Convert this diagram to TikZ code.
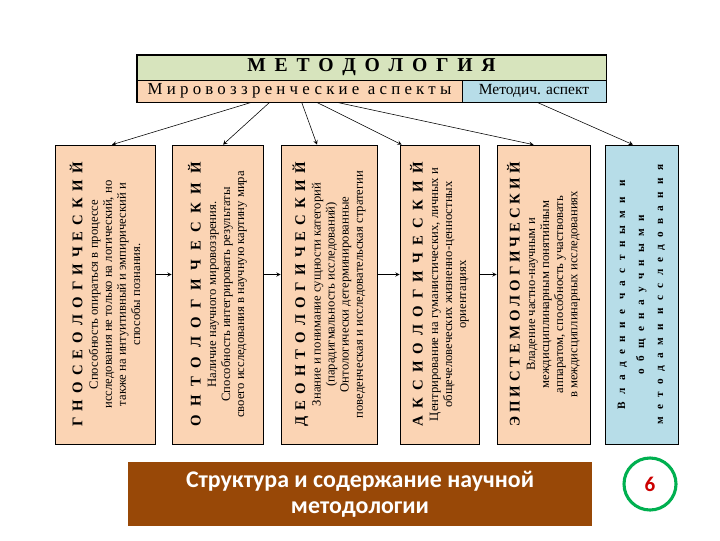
\documentclass[tikz,border=0pt]{standalone}
\usepackage{fontspec}
\setmainfont{Liberation Serif}
\newfontfamily\calibri{Carlito}
\newfontfamily\razryad[LetterSpace=25]{Liberation Serif}
\newfontfamily\shirokiy[LetterSpace=65]{Liberation Serif}
\usetikzlibrary{calc, positioning}
\usetikzlibrary{shapes.geometric, arrows}
\definecolor{persik}{HTML}{FBD4B4}
\definecolor{oliva}{HTML}{D7E4BD}
\definecolor{goluboy}{HTML}{B7DDE8}
\definecolor{korichn}{HTML}{984807}
\definecolor{zelen}{HTML}{00B050}
\tikzstyle{aspekt} = [rectangle, draw=black, fill=persik, minimum height=7.475cm, inner sep=0pt]
\tikzstyle{nadpis} = [rotate=90, align=center, inner sep=0pt, font=\fontsize{9}{10}\selectfont]
\tikzstyle{shapka} = [rectangle, draw=black, inner sep=0pt]
\tikzstyle{arrow} = [->,>=stealth]
\newcommand{\zagl}[1]{\makebox[6.6cm][s]{\bfseries\fontsize{10.5}{10.5}\selectfont #1}}

\begin{document}
\begin{tikzpicture}[x=0.025cm,y=-0.025cm]
	\useasboundingbox (0,0) rectangle (720,540);
	% shapka
	\node[shapka, fill=oliva, minimum width=11.725cm, minimum height=0.625cm] (metod) at (371.5,67.5)
		{\makebox[6.2cm][s]{\bfseries\fontsize{14}{14}\selectfont М Е Т О Д О Л О Г И Я}};
	\node[shapka, fill=persik, minimum width=8.125cm, minimum height=0.55cm] (mir) at (299.5,91)
		{\razryad\fontsize{12}{12}\selectfont Мировоззренческие аспекты};
	\node[shapka, fill=goluboy, minimum width=3.6cm, minimum height=0.55cm] (met) at (534,91)
		{\fontsize{11}{11}\selectfont Методич. аспект};
	\draw[line width=1pt] (metod.north west) rectangle (met.south east);

	% aspekty
	\node[aspekt, minimum width=2.5cm] (gno) at (105,294.5) {};
	\node[aspekt, minimum width=2.275cm] (ont) at (217.5,294.5) {};
	\node[aspekt, minimum width=2.4cm] (deo) at (329,294.5) {};
	\node[aspekt, minimum width=1.975cm] (aks) at (439.5,294.5) {};
	\node[aspekt, minimum width=2.325cm] (epi) at (543.5,294.5) {};
	\node[aspekt, fill=goluboy, minimum width=1.825cm] (vla) at (641.5,294.5) {};

	\node[nadpis] at (gno) {\zagl{Г Н О С Е О Л О Г И Ч Е С К И Й}\\[1pt]
		Способность опираться в процессе\\ исследования не только на логический, но\\
		также на интуитивный и эмпирический и\\ способы познания.};
	\node[nadpis] at (ont) {\zagl{О Н Т О Л О Г И Ч Е С К И Й}\\[1pt]
		Наличие научного мировоззрения.\\ Способность интегрировать результаты\\
		своего исследования в научную картину мира};
	\node[nadpis] at (deo) {\zagl{Д Е О Н Т О Л О Г И Ч Е С К И Й}\\[1pt]
		Знание и понимание сущности категорий\\ (парадигмальность исследований)\\
		Онтологически детерминированные\\ поведенческая и исследовательская стратегии};
	\node[nadpis] at (aks) {\zagl{А К С И О Л О Г И Ч Е С К И Й}\\[1pt]
		Центрирование на гуманистических, личных и\\ общечеловеческих жизненно-ценностных\\
		ориентациях};
	\node[nadpis] at (epi) {\zagl{Э П И С Т Е М О Л О Г И Ч Е С К И Й}\\[1pt]
		Владение частно-научным и\\ междисциплинарным понятийным\\
		аппаратом, способность участвовать\\ в междисциплинарных исследованиях};
	\node[nadpis, font=\shirokiy\bfseries\fontsize{8}{13.5}\selectfont] at (vla)
		{Владение частными и\\ общенаучными\\ методами исследования};

	% strelki
	\draw[arrow] ($(mir.south west)+(115,0)$) -- ($(gno.north)+(7,0)$);
	\draw[arrow] ($(mir.south west)+(133,0)$) -- ($(ont.north)+(5.5,0)$);
	\draw[arrow] ($(mir.south west)+(165,0)$) -- ($(deo.north)+(-12,0)$);
	\draw[arrow] ($(mir.south west)+(180,0)$) -- ($(aks.north west)+(2,0)$);
	\draw[arrow] ($(mir.south west)+(200,0)$) -- ($(epi.north)+(-10,0)$);
	\draw[arrow] ($(met.south)+(3,0)$) -- ($(vla.north)+(-8.5,0)$);
	\foreach \a/\b in {gno/ont, ont/deo, deo/aks, aks/epi}
		\draw[arrow] ($(\a.east)+(0,-20)$) -- ($(\b.west)+(0,-20)$);

	% podpis
	\node[fill=korichn, minimum width=11.6cm, minimum height=1.6cm, text=white, align=center,
		font=\calibri\bfseries\fontsize{17}{18.5}\selectfont] (itog) at (360,494)
		{Структура и содержание научной\\ методологии};
	\node[circle, draw=zelen, line width=2.2pt, minimum size=1.3cm, text=red!80!black,
		font=\calibri\bfseries\fontsize{15}{15}\selectfont] (nomer) at (650,484) {6};
\end{tikzpicture}
\end{document}
